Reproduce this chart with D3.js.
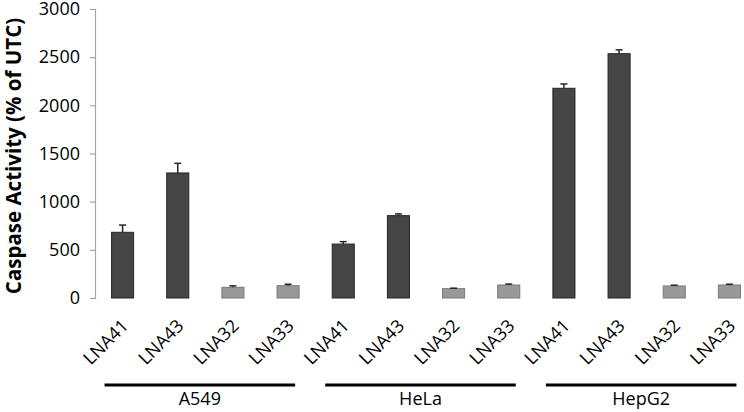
<!DOCTYPE html>
<html>
<head>
<meta charset="utf-8">
<script src="https://cdn.jsdelivr.net/npm/d3@7"></script>
<style>
  body { margin: 0; background: #fff; }
  text { font-family: "Open Sans", "DejaVu Sans", sans-serif; fill: #000; }
</style>
</head>
<body>
<svg id="d3" width="744" height="412"></svg>
<script>
// cell lines and the probes tested in each
const groups = ["A549", "HeLa", "HepG2"];
const probes = ["LNA41", "LNA43", "LNA32", "LNA33"];
const darkProbes = ["LNA41", "LNA43"];

// caspase activity (% of UTC), one array per cell line, in probe order
const a549Values = [682, 1298, 111, 128];
const helaValues = [560, 855, 97, 135];
const hepg2Values = [2177, 2536, 125, 135];

// upper error (SD)
const a549Errors = [75, 100, 15, 15];
const helaErrors = [25, 18, 5, 10];
const hepg2Errors = [45, 40, 8, 8];

const yTicks = [0, 500, 1000, 1500, 2000, 2500, 3000];

const valuesByGroup = [a549Values, helaValues, hepg2Values];
const errorsByGroup = [a549Errors, helaErrors, hepg2Errors];

const data = [];
groups.forEach(function (g, gi) {
  probes.forEach(function (p, pi) {
    data.push({
      key: g + "-" + p,
      group: g,
      probe: p,
      value: valuesByGroup[gi][pi],
      err: errorsByGroup[gi][pi],
    });
  });
});

const svg = d3.select("#d3");

const xScale = d3
  .scaleBand()
  .domain(data.map(function (d) { return d.key; }))
  .range([95, 757])
  .paddingInner(0.6)
  .paddingOuter(0.3);

const yScale = d3.scaleLinear().domain([0, 3000]).range([298, 9]);

// y axis
const yAxis = svg
  .append("g")
  .attr("transform", "translate(95,0)")
  .call(
    d3
      .axisLeft(yScale)
      .tickValues(yTicks)
      .tickFormat(d3.format("d"))
      .tickSize(5)
      .tickPadding(10)
  );
yAxis.select(".domain").attr("stroke", "#a6a6a6").attr("stroke-width", 1.2);
yAxis.selectAll(".tick line").attr("stroke", "#a6a6a6").attr("stroke-width", 1.2);
yAxis
  .selectAll(".tick text")
  .style("font-size", "18px")
  .style("font-family", '"Open Sans", sans-serif')
  .attr("fill", "#000");

// y title
svg
  .append("text")
  .attr("transform", "translate(21,156) rotate(-90)")
  .attr("text-anchor", "middle")
  .style("font-size", "20.5px")
  .style("font-weight", "bold")
  .text("Caspase Activity (% of UTC)");

// bars
svg
  .selectAll(".bar")
  .data(data)
  .enter()
  .append("rect")
  .attr("class", "bar")
  .attr("x", function (d) { return xScale(d.key); })
  .attr("y", function (d) { return yScale(d.value); })
  .attr("width", xScale.bandwidth())
  .attr("height", function (d) { return yScale(0) - yScale(d.value); })
  .attr("fill", function (d) { return darkProbes.includes(d.probe) ? "#454545" : "#999999"; })
  .attr("stroke", function (d) { return darkProbes.includes(d.probe) ? "#262626" : "#7a7a7a"; })
  .attr("stroke-width", 1);

// error bars (upper only)
const err = svg.append("g").attr("stroke", "#262626").attr("stroke-width", 1.5);
err
  .selectAll(".err")
  .data(data)
  .enter()
  .append("line")
  .attr("x1", function (d) { return xScale(d.key) + xScale.bandwidth() / 2; })
  .attr("x2", function (d) { return xScale(d.key) + xScale.bandwidth() / 2; })
  .attr("y1", function (d) { return yScale(d.value); })
  .attr("y2", function (d) { return yScale(d.value + d.err); });
err
  .selectAll(".cap")
  .data(data)
  .enter()
  .append("line")
  .attr("x1", function (d) { return xScale(d.key) + xScale.bandwidth() / 2 - 3.5; })
  .attr("x2", function (d) { return xScale(d.key) + xScale.bandwidth() / 2 + 3.5; })
  .attr("y1", function (d) { return yScale(d.value + d.err); })
  .attr("y2", function (d) { return yScale(d.value + d.err); });

// rotated probe labels
svg
  .selectAll(".xlabel")
  .data(data)
  .enter()
  .append("text")
  .attr("class", "xlabel")
  .attr("text-anchor", "end")
  .style("font-size", "18px")
  .attr("transform", function (d) {
    const cx = xScale(d.key) + xScale.bandwidth() / 2 + 7;
    return "translate(" + cx + ",327) rotate(-45)";
  })
  .text(function (d) { return d.probe; });

// group brackets and names
groups.forEach(function (g) {
  const first = xScale(g + "-" + probes[0]);
  const last = xScale(g + "-" + probes[probes.length - 1]) + xScale.bandwidth();
  const x0 = first - 7;
  const x1 = last - 4;
  svg
    .append("line")
    .attr("x1", x0)
    .attr("x2", x1)
    .attr("y1", 385)
    .attr("y2", 385)
    .attr("stroke", "#000")
    .attr("stroke-width", 3);
  svg
    .append("text")
    .attr("x", (x0 + x1) / 2)
    .attr("y", 405)
    .attr("text-anchor", "middle")
    .style("font-size", "18px")
    .text(g);
});
</script>
</body>
</html>
